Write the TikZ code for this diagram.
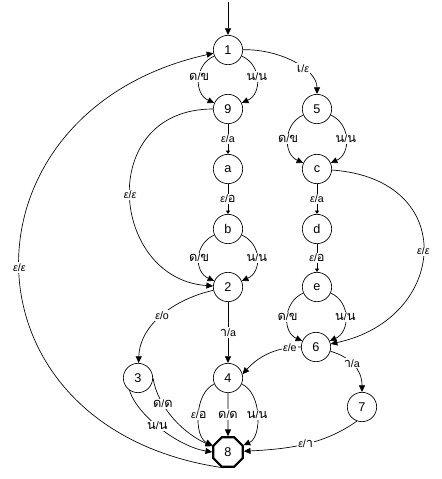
\documentclass[tikz,border=0pt]{standalone}
\usepackage{fontspec}
\setmainfont{Liberation Sans}
\newfontfamily\thaifont[Script=Thai,Scale=1.2]{Loma}
\usetikzlibrary{arrows.meta,shapes.geometric}
\newcommand\myeps{{\itshape ε}}
\newcommand\tf[1]{{\thaifont #1}}
\begin{document}
\begin{tikzpicture}[x=0.75pt,y=0.75pt,
  st/.style={circle,draw,line width=0.5pt,minimum size=22pt,inner sep=0pt,font=\fontsize{9.5}{10}\selectfont},
  fin/.style={regular polygon,regular polygon sides=8,draw,line width=1.6pt,minimum size=24pt,inner sep=0pt,font=\fontsize{9.5}{10}\selectfont},
  arr/.style={line width=0.5pt,-{Triangle[length=5pt,width=4.5pt]}},
  sarr/.style={line width=0.5pt,-{Triangle[length=2.5pt,width=3pt]}},
  lbl/.style={fill=white,inner sep=1pt,font=\fontsize{8}{9}\selectfont}]
\useasboundingbox (0,0) rectangle (442,479);
\node[st] (1) at (228,429) {1};
\node[st] (9) at (228,370) {9};
\node[st] (a) at (228,310) {a};
\node[st] (b) at (228,250) {b};
\node[st] (2) at (228,192) {2};
\node[st] (4) at (228,101) {4};
\node[fin] (8) at (228,27) {8};
\node[st] (3) at (138,101) {3};
\node[st] (5) at (317,370) {5};
\node[st] (c) at (317,310) {c};
\node[st] (d) at (317,250) {d};
\node[st] (e) at (317,192) {e};
\node[st] (6) at (316,132) {6};
\node[st] (7) at (362,72) {7};
\coordinate (s) at (228,477);
% start
\draw[arr] (s) -- (1);
% 1 -> 9
\draw[arr] (1) .. controls (194,414) and (194,385) .. node[lbl,pos=0.45]{\tf{ด}/\tf{ข}} (9);
\draw[arr] (1) .. controls (262,414) and (262,385) .. node[lbl,pos=0.45]{\tf{น}/\tf{น}} (9);
% 9 -> a -> b
\draw[sarr] (9) -- node[lbl]{\myeps/a} (a);
\draw[sarr] (a) -- node[lbl]{\myeps/\tf{อ}} (b);
% b -> 2
\draw[arr] (b) .. controls (194,235) and (194,207) .. node[lbl]{\tf{ด}/\tf{ข}} (2);
\draw[arr] (b) .. controls (262,235) and (262,207) .. node[lbl]{\tf{น}/\tf{น}} (2);
% 9 -> 2
\draw[arr] (9) .. controls (95,370) and (110,200) .. node[lbl]{\myeps/\myeps} (2);
% 8 -> 1
\draw[arr] (8.255) .. controls (-47,50) and (-47,368) .. node[lbl]{\myeps/\myeps} (1);
% 2 -> 3
\draw[arr] (2) .. controls (175,180) and (140,155) .. node[lbl]{\myeps/o} (3);
% 2 -> 4
\draw[arr] (2) -- node[lbl]{\tf{า}/a} (4);
% 1 -> 5
\draw[arr] (1) .. controls (280,430) and (317,410) .. node[lbl,pos=0.62]{\tf{เ}/\myeps} (5);
% 5 -> c
\draw[arr] (5) .. controls (283,355) and (283,325) .. node[lbl]{\tf{ด}/\tf{ข}} (c);
\draw[arr] (5) .. controls (351,355) and (351,325) .. node[lbl]{\tf{น}/\tf{น}} (c);
% c -> d -> e
\draw[sarr] (c) -- node[lbl]{\myeps/a} (d);
\draw[sarr] (d) -- node[lbl]{\myeps/\tf{อ}} (e);
% e -> 6
\draw[arr] (e) .. controls (283,177) and (282,147) .. node[lbl]{\tf{ด}/\tf{ข}} (6);
\draw[arr] (e) .. controls (351,177) and (350,147) .. node[lbl]{\tf{น}/\tf{น}} (6);
% c -> 6
\draw[arr] (c) .. controls (460,300) and (448,160) .. node[lbl]{\myeps/\myeps} (6);
% 6 -> 4
\draw[arr] (6.west) .. controls (275,132) and (258,122) .. node[lbl,pos=0.15]{\myeps/e} (4.15);
% 6 -> 7
\draw[arr] (6) .. controls (350,122) and (362,110) .. node[lbl,pos=0.45]{\tf{า}/a} (7);
% 7 -> 8
\draw[arr] (7.250) .. controls (325,35) and (290,30) .. node[lbl]{\myeps/\tf{า}} (8);
% 3 -> 8
\draw[arr] (3.0) .. controls (158,70) and (185,45) .. node[lbl,pos=0.3]{\tf{ด}/\tf{ด}} (8.160);
\draw[arr] (3.235) .. controls (138,62) and (180,32) .. node[lbl,pos=0.45]{\tf{น}/\tf{น}} (8.180);
% 4 -> 8
\draw[arr] (4) .. controls (194,86) and (194,42) .. node[lbl]{\myeps/\tf{อ}} (8);
\draw[arr] (4) -- node[lbl]{\tf{ด}/\tf{ด}} (8);
\draw[arr] (4) .. controls (262,86) and (262,42) .. node[lbl]{\tf{น}/\tf{น}} (8);
\end{tikzpicture}
\end{document}
